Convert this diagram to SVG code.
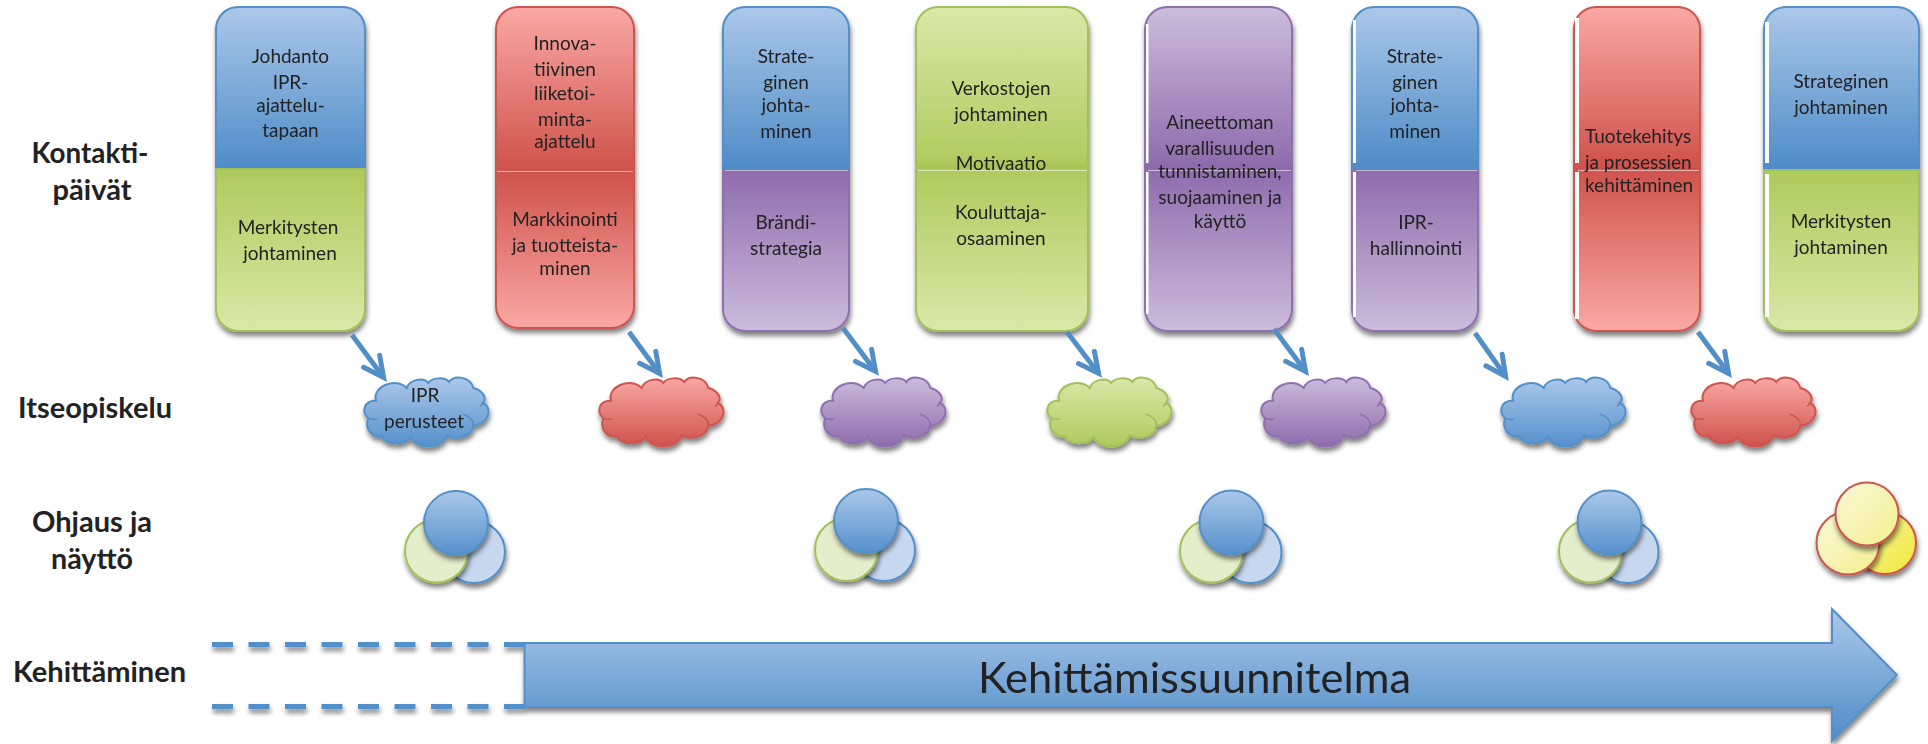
<svg xmlns="http://www.w3.org/2000/svg" width="1928" height="744" viewBox="0 0 1928 744">
<style>
text{font-family:"Lato","Open Sans","Liberation Sans",sans-serif;fill:#222;text-anchor:middle;font-size:19px}
.lbl{font-weight:700;font-size:28px}
.big{font-size:42px}
.st{text-anchor:start}
.sh{filter:url(#shadow)}
.bl{stroke:#528fc8;stroke-width:2}
.gr{stroke:#a2c05a;stroke-width:2}
.pu{stroke:#8f6fae;stroke-width:2}
.re{stroke:#cc5550;stroke-width:2}
.hl{fill:#fff}
.sp{stroke:#fff;stroke-opacity:.55;stroke-width:1;fill:none}
.cu{fill:none;stroke-width:1.5}
.con{fill:none;stroke:#528fc8;stroke-width:5;marker-end:url(#head)}
.dash{fill:none;stroke:#528fc8;stroke-width:5;stroke-dasharray:21 15.5}
</style>
<defs>
<filter id="shadow" x="-15%" y="-15%" width="130%" height="130%"><feDropShadow dx="1" dy="4" stdDeviation="2.5" flood-color="#000" flood-opacity=".5"/></filter>
<marker id="head" markerUnits="userSpaceOnUse" viewBox="-24 -14 32 28" markerWidth="32" markerHeight="28" refX="0" refY="0" orient="auto"><polyline points="-20,-10 0,0 -20,10" fill="none" stroke="#528fc8" stroke-width="5" stroke-linecap="round" stroke-miterlimit="8"/></marker>
<linearGradient id="bU" x2="0" y2="1"><stop offset="0" stop-color="#abc8e9"/><stop offset="1" stop-color="#4f8cc8"/></linearGradient>
<linearGradient id="bC" x2="0" y2="1"><stop offset="0" stop-color="#abc8e9"/><stop offset="1" stop-color="#5590cc"/></linearGradient>
<linearGradient id="gU" x2="0" y2="1"><stop offset="0" stop-color="#dbe8a8"/><stop offset="1" stop-color="#adca5c"/></linearGradient>
<linearGradient id="gD" x2="0" y2="1"><stop offset="0" stop-color="#adca5c"/><stop offset="1" stop-color="#dbe8a8"/></linearGradient>
<linearGradient id="pU" x2="0" y2="1"><stop offset="0" stop-color="#ccbcdc"/><stop offset="1" stop-color="#8d6bac"/></linearGradient>
<linearGradient id="pD" x2="0" y2="1"><stop offset="0" stop-color="#8d6bac"/><stop offset="1" stop-color="#ccbcdc"/></linearGradient>
<linearGradient id="rU" x2="0" y2="1"><stop offset="0" stop-color="#faa8a4"/><stop offset="1" stop-color="#cf524b"/></linearGradient>
<linearGradient id="rD" x2="0" y2="1"><stop offset="0" stop-color="#cf524b"/><stop offset="1" stop-color="#faa8a4"/></linearGradient>
<linearGradient id="y1" x1="0" y1="0" x2="1" y2="1"><stop offset="0" stop-color="#f9f8d8"/><stop offset="1" stop-color="#f3ef90"/></linearGradient>
<linearGradient id="y2" x1="0" y1="0" x2="1" y2="1"><stop offset="0" stop-color="#f6f3a8"/><stop offset="1" stop-color="#f2e838"/></linearGradient>
<path id="cloud" d="M12 22.7C8 8 32-1 42.7 10C46 1 60-1 64.3 5C68-1 81-1 85.3 4C90-3 106-2 109.3 10C118 12 124 20 118.7 25C130 30 124 46 109.3 47.7C108 60 90 62 82.7 57.3C78 72 52 72 46.7 59C42 67 22 68 17.7 58.3C8 60 0 50 4.3 40.3C-3 34 0 22 12 22.7Z"/>
<path id="curl" d="M98.7 36C104 38 110 42 109.3 47.7M4.3 40.3C7 41.5 10 41.5 13 41M118.7 25C118 27 117 28 116 28"/>
</defs>

<g id="labels">
<text class="lbl" x="90" y="163" textLength="117" lengthAdjust="spacingAndGlyphs">Kontakti-</text>
<text class="lbl" x="92" y="200" textLength="79" lengthAdjust="spacingAndGlyphs">päivät</text>
<text class="lbl" x="95" y="418" textLength="154" lengthAdjust="spacingAndGlyphs">Itseopiskelu</text>
<text class="lbl" x="92" y="532" textLength="120" lengthAdjust="spacingAndGlyphs">Ohjaus ja</text>
<text class="lbl" x="92" y="569" textLength="82" lengthAdjust="spacingAndGlyphs">näyttö</text>
<text class="lbl" x="99.500" y="682" textLength="173" lengthAdjust="spacingAndGlyphs">Kehittäminen</text>
</g>

<g id="box1" class="sh">
<path class="bl" fill="url(#bU)" d="M216 169V29A22 22 0 0 1 238 7H343A22 22 0 0 1 365 29V169Z"/>
<path class="gr" fill="url(#gD)" d="M216 169V309A22 22 0 0 0 238 331H343A22 22 0 0 0 365 309V169Z"/>
<text x="290.500" y="63">Johdanto</text><text x="290.500" y="89">IPR-</text><text x="290.500" y="112">ajattelu-</text><text x="290.500" y="137">tapaan</text>
<text x="288" y="234">Merkitysten</text><text x="290" y="260">johtaminen</text>
</g>
<g id="box2" class="sh">
<path class="re" fill="url(#rU)" d="M496 171V29A22 22 0 0 1 518 7H612A22 22 0 0 1 634 29V171Z"/>
<path class="re" fill="url(#rD)" d="M496 171V306A22 22 0 0 0 518 328H612A22 22 0 0 0 634 306V171Z"/>
<path class="sp" d="M497 171.500H633"/>
<text x="565" y="50">Innova-</text><text x="565" y="76">tiivinen</text><text x="565" y="100">liiketoi-</text><text x="565" y="126">minta-</text><text x="565" y="148">ajattelu</text>
<text x="565" y="226">Markkinointi</text><text x="565" y="252">ja tuotteista-</text><text x="565" y="275">minen</text>
</g>
<g id="box3" class="sh">
<path class="bl" fill="url(#bU)" d="M723 168V29A22 22 0 0 1 745 7H827A22 22 0 0 1 849 29V168Z"/>
<path class="pu" fill="url(#pD)" d="M723 168V309A22 22 0 0 0 745 331H827A22 22 0 0 0 849 309V168Z"/>
<rect x="722" y="164" width="128" height="5" fill="#4f8cc8"/>
<path class="sp" d="M725 170.500H848"/>
<text x="786" y="63">Strate-</text><text x="786" y="89">ginen</text><text x="786" y="112">johta-</text><text x="786" y="138">minen</text>
<text x="786" y="229">Brändi-</text><text x="786" y="255">strategia</text>
</g>
<g id="box4" class="sh">
<path class="gr" fill="url(#gU)" d="M916 167V29A22 22 0 0 1 938 7H1066A22 22 0 0 1 1088 29V167Z"/>
<path class="gr" fill="url(#gD)" d="M916 167V309A22 22 0 0 0 938 331H1066A22 22 0 0 0 1088 309V167Z"/>
<rect x="915" y="164" width="174" height="5" fill="#a8c658"/>
<path class="sp" d="M918 170.500H1087"/>
<text x="1001" y="95">Verkostojen</text><text x="1001" y="121">johtaminen</text><text x="1001" y="170">Motivaatio</text>
<text x="1001" y="219">Kouluttaja-</text><text x="1001" y="245">osaaminen</text>
</g>
<g id="box5" class="sh">
<path class="pu" fill="url(#pU)" d="M1145 167V29A22 22 0 0 1 1167 7H1270A22 22 0 0 1 1292 29V167Z"/>
<path class="pu" fill="url(#pD)" d="M1145 167V309A22 22 0 0 0 1167 331H1270A22 22 0 0 0 1292 309V167Z"/>
<rect class="hl" x="1146" y="24" width="2.500" height="139"/><rect class="hl" x="1146" y="172" width="2.500" height="142"/>
<rect x="1144" y="164" width="149" height="5" fill="#8d6bac"/>
<path class="sp" d="M1148 170.500H1291"/>
<text x="1220" y="129">Aineettoman</text><text x="1220" y="155">varallisuuden</text><text x="1220" y="178">tunnistaminen,</text><text x="1220" y="204">suojaaminen ja</text><text x="1220" y="228">käyttö</text>
</g>
<g id="box6" class="sh">
<path class="bl" fill="url(#bU)" d="M1352 166V29A22 22 0 0 1 1374 7H1456A22 22 0 0 1 1478 29V166Z"/>
<path class="pu" fill="url(#pD)" d="M1352 168V309A22 22 0 0 0 1374 331H1456A22 22 0 0 0 1478 309V168Z"/>
<rect class="hl" x="1353" y="20" width="3" height="143"/><rect class="hl" x="1353" y="172" width="3" height="145"/>
<rect x="1351" y="164" width="128" height="5" fill="#4f8cc8"/>
<path class="sp" d="M1356 170.500H1477"/>
<text x="1415" y="63">Strate-</text><text x="1415" y="89">ginen</text><text x="1415" y="112">johta-</text><text x="1415" y="138">minen</text>
<text x="1416" y="229">IPR-</text><text x="1416" y="255">hallinnointi</text>
</g>
<g id="box7" class="sh">
<path class="re" fill="url(#rU)" d="M1574 167V29A22 22 0 0 1 1596 7H1678A22 22 0 0 1 1700 29V167Z"/>
<path class="re" fill="url(#rD)" d="M1574 167V309A22 22 0 0 0 1596 331H1678A22 22 0 0 0 1700 309V167Z"/>
<rect class="hl" x="1575" y="18" width="4" height="145"/><rect class="hl" x="1575" y="172" width="4" height="147"/>
<rect x="1573" y="164" width="128" height="5" fill="#cf524b"/>
<path class="sp" d="M1578 170.500H1699"/>
<text class="st" x="1585" y="143">Tuotekehitys</text><text class="st" x="1585" y="169">ja prosessien</text><text class="st" x="1585" y="192">kehittäminen</text>
</g>
<g id="box8" class="sh">
<path class="bl" fill="url(#bU)" d="M1764 168V29A22 22 0 0 1 1786 7H1897A22 22 0 0 1 1919 29V168Z"/>
<path class="gr" fill="url(#gD)" d="M1764 170V309A22 22 0 0 0 1786 331H1897A22 22 0 0 0 1919 309V170Z"/>
<rect class="hl" x="1765" y="22" width="4" height="141"/><rect class="hl" x="1765" y="174" width="4" height="143"/>
<rect x="1763" y="164" width="157" height="5" fill="#4f8cc8"/>
<text x="1841" y="88">Strateginen</text><text x="1841" y="114">johtaminen</text>
<text x="1841" y="228">Merkitysten</text><text x="1841" y="254">johtaminen</text>
</g>

<g id="cloud1" class="sh">
<use href="#cloud" x="364" y="378" fill="url(#bC)" class="bl"/><use href="#curl" x="364" y="378" class="bl cu"/>
<text x="425" y="402">IPR</text><text x="424" y="428">perusteet</text>
</g>
<g id="cloud2" class="sh"><use href="#cloud" x="599" y="378" fill="url(#rU)" class="re"/><use href="#curl" x="599" y="378" class="re cu"/></g>
<g id="cloud3" class="sh"><use href="#cloud" x="821" y="378" fill="url(#pU)" class="pu"/><use href="#curl" x="821" y="378" class="pu cu"/></g>
<g id="cloud4" class="sh"><use href="#cloud" x="1047" y="378" fill="url(#gU)" class="gr"/><use href="#curl" x="1047" y="378" class="gr cu"/></g>
<g id="cloud5" class="sh"><use href="#cloud" x="1261" y="378" fill="url(#pU)" class="pu"/><use href="#curl" x="1261" y="378" class="pu cu"/></g>
<g id="cloud6" class="sh"><use href="#cloud" x="1501" y="378" fill="url(#bC)" class="bl"/><use href="#curl" x="1501" y="378" class="bl cu"/></g>
<g id="cloud7" class="sh"><use href="#cloud" x="1691" y="378" fill="url(#rU)" class="re"/><use href="#curl" x="1691" y="378" class="re cu"/></g>

<g id="circles1">
<circle cx="474" cy="552" r="31" fill="#c6d7ef" class="bl sh"/><circle cx="436.500" cy="551" r="31.500" fill="#e5eecb" class="gr sh"/><circle cx="456" cy="523" r="32" fill="url(#bC)" class="bl sh"/>
</g>
<g id="circles2">
<circle cx="884" cy="550" r="31" fill="#c6d7ef" class="bl sh"/><circle cx="846.500" cy="549.500" r="31.500" fill="#e5eecb" class="gr sh"/><circle cx="866" cy="521" r="32" fill="url(#bC)" class="bl sh"/>
</g>
<g id="circles3">
<circle cx="1250.500" cy="552" r="31" fill="#c6d7ef" class="bl sh"/><circle cx="1211.500" cy="551" r="31.500" fill="#e5eecb" class="gr sh"/><circle cx="1231.500" cy="522.500" r="32" fill="url(#bC)" class="bl sh"/>
</g>
<g id="circles4">
<circle cx="1627.500" cy="552" r="31" fill="#c6d7ef" class="bl sh"/><circle cx="1590.500" cy="551" r="31.500" fill="#e5eecb" class="gr sh"/><circle cx="1609.500" cy="522.500" r="32" fill="url(#bC)" class="bl sh"/>
</g>
<g id="circles5">
<circle cx="1885" cy="543" r="31" fill="url(#y2)" class="re sh"/><circle cx="1848" cy="543" r="31.500" fill="url(#y1)" class="re sh"/><circle cx="1867" cy="514" r="31.500" fill="url(#y1)" class="re sh"/>
</g>

<g id="development" class="sh">
<path class="dash" d="M212 644.500H525"/><path class="dash" d="M212 706.500H525"/>
<path class="bl" fill="url(#bU)" d="M524.500 643H1832V609L1897 675L1832 741V707H524.500Z"/>
<text class="big" x="1194.500" y="693" textLength="433" lengthAdjust="spacingAndGlyphs">Kehittämissuunnitelma</text>
</g>

<g id="connectors">
<path class="con" d="M352 335L383.600 377.400"/>
<path class="con" d="M629 332L659.600 373.400"/>
<path class="con" d="M843 328L875.600 371.400"/>
<path class="con" d="M1067 332L1098.600 373.400"/>
<path class="con" d="M1274 329L1305.600 371.400"/>
<path class="con" d="M1475 333L1505.600 376.400"/>
<path class="con" d="M1698 332L1728.600 373.400"/>
</g>
</svg>
